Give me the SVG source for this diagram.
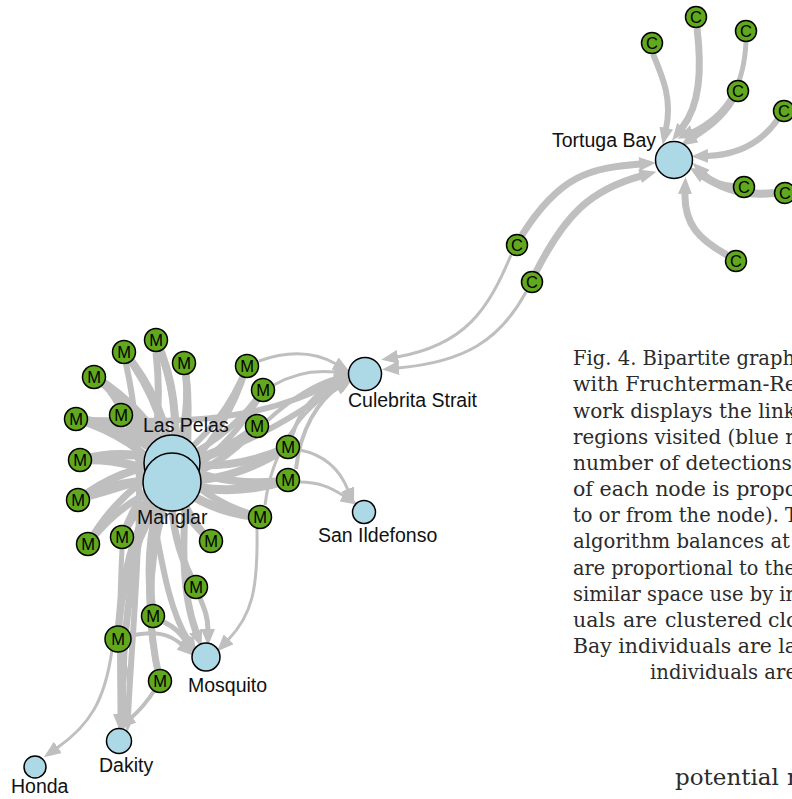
<svg xmlns="http://www.w3.org/2000/svg" width="792" height="799" viewBox="0 0 792 799">
<style>
.e{fill:none;stroke:#bfbfbf;stroke-linecap:butt}
.a{marker-end:url(#arr)}
.ind{fill:#62a81e;stroke:#000;stroke-width:1.5}
.reg{fill:#add8e6;stroke:#000;stroke-width:1.5}
.il{font-family:"Liberation Sans",Arial,sans-serif;font-size:16.5px;fill:#000;text-anchor:middle}
.rl{font-family:"Liberation Sans",Arial,sans-serif;font-size:19.5px;fill:#111}
.cap{font-family:"DejaVu Serif",serif;font-size:20.5px;fill:#2b2b2b}
</style>
<defs>
<marker id="arr" markerUnits="userSpaceOnUse" markerWidth="17" markerHeight="14" refX="1" refY="7" orient="auto">
<path d="M0,0 L17,7 L0,14 z" fill="#bfbfbf"/>
</marker>
</defs>
<rect width="792" height="799" fill="#fff"/>
<g id="connectors">
<path class="e" stroke-width="8" d="M156,340 Q182.5,399 172,463"/>
<path class="e" stroke-width="7" d="M156,340 Q185,409 172,482"/>
<path class="e" stroke-width="8" d="M124,352 Q164.7,400.3 172,463"/>
<path class="e" stroke-width="7" d="M124,352 Q167.5,409.8 172,482"/>
<path class="e" stroke-width="7" d="M184,363 Q193,414.8 172,463"/>
<path class="e" stroke-width="7" d="M184,363 Q195.9,424.3 172,482"/>
<path class="e" stroke-width="9" d="M94,377 Q145.9,408.3 172,463"/>
<path class="e" stroke-width="7" d="M94,377 Q148.8,417.8 172,482"/>
<path class="e" stroke-width="6" d="M247,366 Q224,425.8 172,463"/>
<path class="e" stroke-width="6" d="M247,366 Q226.9,435.3 172,482"/>
<path class="e" stroke-width="6" d="M263,390 Q228.5,440.2 172,463"/>
<path class="e" stroke-width="6" d="M263,390 Q231.3,449.7 172,482"/>
<path class="e" stroke-width="7" d="M121,415 Q153.7,431.4 172,463"/>
<path class="e" stroke-width="7" d="M121,415 Q156.5,440.9 172,482"/>
<path class="e" stroke-width="10" d="M76,419 Q130.6,426.6 172,463"/>
<path class="e" stroke-width="8" d="M76,419 Q133.5,436.1 172,482"/>
<path class="e" stroke-width="8" d="M257,426 Q220,457.3 172,463"/>
<path class="e" stroke-width="7" d="M257,426 Q222.9,466.8 172,482"/>
<path class="e" stroke-width="9" d="M80,460 Q126.5,447.7 172,463"/>
<path class="e" stroke-width="9" d="M80,460 Q129.3,457.2 172,482"/>
<path class="e" stroke-width="8" d="M288,447 Q232.4,472.4 172,463"/>
<path class="e" stroke-width="8" d="M288,447 Q235.3,481.9 172,482"/>
<path class="e" stroke-width="8" d="M288,480 Q227.5,488.9 172,463"/>
<path class="e" stroke-width="9" d="M288,480 Q230.3,498.4 172,482"/>
<path class="e" stroke-width="8" d="M78,500 Q119.5,467.4 172,463"/>
<path class="e" stroke-width="9" d="M78,500 Q122.3,476.9 172,482"/>
<path class="e" stroke-width="7" d="M260,517 Q207.9,503.2 172,463"/>
<path class="e" stroke-width="9" d="M260,517 Q210.8,512.7 172,482"/>
<path class="e" stroke-width="7" d="M88,544 Q117.9,490.9 172,463"/>
<path class="e" stroke-width="7" d="M88,544 Q120.7,500.4 172,482"/>
<path class="e" stroke-width="6" d="M122,537 Q135.9,492.5 172,463"/>
<path class="e" stroke-width="7" d="M122,537 Q138.8,502 172,482"/>
<path class="e" stroke-width="6" d="M211,541 Q179.8,507.9 172,463"/>
<path class="e" stroke-width="7" d="M211,541 Q182.7,517.4 172,482"/>
<path class="e" stroke-width="6" d="M196,587 Q165.4,528.6 172,463"/>
<path class="e" stroke-width="7" d="M196,587 Q168.3,538.1 172,482"/>
<path class="e" stroke-width="7" d="M153,616 Q139.6,536.7 172,463"/>
<path class="e" stroke-width="8" d="M153,616 Q142.4,546.2 172,482"/>
<path class="e" stroke-width="6" d="M118,639 Q118.6,542.9 172,463"/>
<path class="e" stroke-width="7" d="M118,639 Q121.5,552.4 172,482"/>
<path class="e" stroke-width="6" d="M160,681 Q133.3,570.2 172,463"/>
<path class="e" stroke-width="7" d="M160,681 Q136.2,579.7 172,482"/>
<path class="e a" stroke-width="6" d="M653,54 C664,80 672,100 666,129"/>
<path class="e a" stroke-width="7" d="M697,28 C702,70 700,105 682,128"/>
<path class="e a" stroke-width="5" d="M746,42 C744,85 728,115 692,132"/>
<path class="e a" stroke-width="6" d="M733,100 C722,118 708,128 694,137"/>
<path class="e a" stroke-width="6" d="M778,119 C760,145 735,155 707,156"/>
<path class="e a" stroke-width="8" d="M774,193 C745,196 725,190 703,176"/>
<path class="e a" stroke-width="6" d="M733,186 C722,185 712,182 704,174"/>
<path class="e a" stroke-width="7" d="M727,255 C700,240 684,225 685,193"/>
<path class="e a" stroke-width="7" d="M522,235 C560,175 590,168 640,164"/>
<path class="e a" stroke-width="7" d="M536,272 C565,215 590,190 641,176"/>
<path class="e a" stroke-width="3" d="M511,255 C488,310 465,345 397,357"/>
<path class="e a" stroke-width="3" d="M526,292 C500,340 465,362 398,368"/>
<path class="e a" stroke-width="3" d="M259,361 C290,350 315,352 336,364"/>
<path class="e a" stroke-width="3" d="M274,385 C296,372 316,370 335,372"/>
<path class="e a" stroke-width="4" d="M268,420 C290,400 312,385 336,378"/>
<path class="e a" stroke-width="4" d="M292,436 C300,410 315,392 337,382"/>
<path class="e a" stroke-width="4" d="M296,469 C300,430 318,400 340,386"/>
<path class="e a" stroke-width="3" d="M265,505 C272,450 300,410 338,388"/>
<path class="e a" stroke-width="6" d="M88,420 C150,420 250,430 337,380"/>
<path class="e a" stroke-width="6" d="M90,497 C180,470 270,440 338,384"/>
<path class="e a" stroke-width="3" d="M300,450 C325,455 340,470 348,490"/>
<path class="e a" stroke-width="3" d="M300,482 C318,482 330,487 344,496"/>
<path class="e a" stroke-width="3" d="M257,529 C258,590 252,615 228,640"/>
<path class="e a" stroke-width="5" d="M200,598 C205,610 208,618 208,630"/>
<path class="e a" stroke-width="5" d="M164,622 C172,626 180,632 185,640"/>
<path class="e a" stroke-width="4" d="M130,636 C155,630 170,634 182,645"/>
<path class="e a" stroke-width="7" d="M186,374 C195,470 170,560 196,632"/>
<path class="e a" stroke-width="6" d="M104,384 C160,450 150,580 188,640"/>
<path class="e a" stroke-width="7" d="M156,352 C170,470 118,560 123,715"/>
<path class="e a" stroke-width="6" d="M126,364 C150,470 135,580 128,716"/>
<path class="e a" stroke-width="5" d="M122,549 C118,620 120,680 120,715"/>
<path class="e a" stroke-width="3" d="M121,651 C132,680 130,700 124,716"/>
<path class="e a" stroke-width="4" d="M154,691 C147,702 140,710 131,718"/>
<path class="e a" stroke-width="3" d="M112,650 C105,700 90,725 57,748"/>
</g>
<g id="tortuga-bay"><circle class="reg" cx="674" cy="160" r="18.5"/><text class="rl" x="552" y="147">Tortuga Bay</text></g>
<g id="culebrita-strait"><circle class="reg" cx="365" cy="374" r="16.5"/><text class="rl" x="348" y="407">Culebrita Strait</text></g>
<g id="san-ildefonso"><circle class="reg" cx="364" cy="512" r="11.5"/><text class="rl" x="318" y="542">San Ildefonso</text></g>
<g id="las-pelas"><circle class="reg" cx="172" cy="463" r="28"/><text class="rl" x="143" y="432">Las Pelas</text></g>
<g id="manglar"><circle class="reg" cx="172" cy="482" r="29"/><text class="rl" x="137" y="524">Manglar</text></g>
<g id="mosquito"><circle class="reg" cx="206" cy="657" r="14"/><text class="rl" x="188" y="692">Mosquito</text></g>
<g id="dakity"><circle class="reg" cx="119" cy="741" r="12.5"/><text class="rl" x="99" y="772">Dakity</text></g>
<g id="honda"><circle class="reg" cx="35" cy="767" r="11"/><text class="rl" x="11" y="793">Honda</text></g>
<g id="c1"><circle class="ind" cx="652" cy="43" r="10.5"/><text class="il" x="652" y="49">C</text></g>
<g id="c2"><circle class="ind" cx="696" cy="17" r="10.5"/><text class="il" x="696" y="23">C</text></g>
<g id="c3"><circle class="ind" cx="746" cy="31" r="10.5"/><text class="il" x="746" y="37">C</text></g>
<g id="c4"><circle class="ind" cx="738" cy="91" r="10.5"/><text class="il" x="738" y="97">C</text></g>
<g id="c5"><circle class="ind" cx="784" cy="111" r="10.5"/><text class="il" x="784" y="117">C</text></g>
<g id="c6"><circle class="ind" cx="744" cy="187" r="10.5"/><text class="il" x="744" y="193">C</text></g>
<g id="c7"><circle class="ind" cx="785" cy="193" r="10.5"/><text class="il" x="785" y="199">C</text></g>
<g id="c8"><circle class="ind" cx="736" cy="261" r="10.5"/><text class="il" x="736" y="267">C</text></g>
<g id="c9"><circle class="ind" cx="517" cy="245" r="10.5"/><text class="il" x="517" y="251">C</text></g>
<g id="c10"><circle class="ind" cx="532" cy="282" r="10.5"/><text class="il" x="532" y="288">C</text></g>
<g id="m1"><circle class="ind" cx="156" cy="340" r="11.5"/><text class="il" x="156" y="346">M</text></g>
<g id="m2"><circle class="ind" cx="124" cy="352" r="11.5"/><text class="il" x="124" y="358">M</text></g>
<g id="m3"><circle class="ind" cx="184" cy="363" r="11.5"/><text class="il" x="184" y="369">M</text></g>
<g id="m4"><circle class="ind" cx="94" cy="377" r="11.5"/><text class="il" x="94" y="383">M</text></g>
<g id="m5"><circle class="ind" cx="247" cy="366" r="11.5"/><text class="il" x="247" y="372">M</text></g>
<g id="m6"><circle class="ind" cx="263" cy="390" r="11.5"/><text class="il" x="263" y="396">M</text></g>
<g id="m7"><circle class="ind" cx="121" cy="415" r="11.5"/><text class="il" x="121" y="421">M</text></g>
<g id="m8"><circle class="ind" cx="76" cy="419" r="11.5"/><text class="il" x="76" y="425">M</text></g>
<g id="m9"><circle class="ind" cx="257" cy="426" r="11.5"/><text class="il" x="257" y="432">M</text></g>
<g id="m10"><circle class="ind" cx="80" cy="460" r="11.5"/><text class="il" x="80" y="466">M</text></g>
<g id="m11"><circle class="ind" cx="288" cy="447" r="11.5"/><text class="il" x="288" y="453">M</text></g>
<g id="m12"><circle class="ind" cx="288" cy="480" r="11.5"/><text class="il" x="288" y="486">M</text></g>
<g id="m13"><circle class="ind" cx="78" cy="500" r="11.5"/><text class="il" x="78" y="506">M</text></g>
<g id="m14"><circle class="ind" cx="260" cy="517" r="11.5"/><text class="il" x="260" y="523">M</text></g>
<g id="m15"><circle class="ind" cx="88" cy="544" r="11.5"/><text class="il" x="88" y="550">M</text></g>
<g id="m16"><circle class="ind" cx="122" cy="537" r="11.5"/><text class="il" x="122" y="543">M</text></g>
<g id="m17"><circle class="ind" cx="211" cy="541" r="11.5"/><text class="il" x="211" y="547">M</text></g>
<g id="m18"><circle class="ind" cx="196" cy="587" r="11.5"/><text class="il" x="196" y="593">M</text></g>
<g id="m19"><circle class="ind" cx="153" cy="616" r="11.5"/><text class="il" x="153" y="622">M</text></g>
<g id="m20"><circle class="ind" cx="118" cy="639" r="13"/><text class="il" x="118" y="645">M</text></g>
<g id="m21"><circle class="ind" cx="160" cy="681" r="11.5"/><text class="il" x="160" y="687">M</text></g>
<g id="caption">
<text class="cap" x="573" y="365" textLength="222" lengthAdjust="spacingAndGlyphs">Fig. 4. Bipartite graph</text>
<text class="cap" x="573" y="391" textLength="224" lengthAdjust="spacingAndGlyphs">with Fruchterman-Re</text>
<text class="cap" x="573" y="418" textLength="223" lengthAdjust="spacingAndGlyphs">work displays the link</text>
<text class="cap" x="573" y="444" textLength="225" lengthAdjust="spacingAndGlyphs">regions visited (blue n</text>
<text class="cap" x="573" y="470" textLength="219" lengthAdjust="spacingAndGlyphs">number of detections</text>
<text class="cap" x="573" y="496" textLength="224" lengthAdjust="spacingAndGlyphs">of each node is propo</text>
<text class="cap" x="573" y="522" textLength="225" lengthAdjust="spacingAndGlyphs">to or from the node). T</text>
<text class="cap" x="573" y="548" textLength="217" lengthAdjust="spacingAndGlyphs">algorithm balances at</text>
<text class="cap" x="573" y="575" textLength="223" lengthAdjust="spacingAndGlyphs">are proportional to the</text>
<text class="cap" x="573" y="601" textLength="225" lengthAdjust="spacingAndGlyphs">similar space use by in</text>
<text class="cap" x="573" y="627">uals<tspan x="623">are</tspan><tspan x="665">clustered</tspan><tspan x="768">clo</tspan></text>
<text class="cap" x="573" y="653" textLength="224" lengthAdjust="spacingAndGlyphs">Bay individuals are la</text>
<text class="cap" x="650" y="679" textLength="147" lengthAdjust="spacingAndGlyphs">individuals are</text>
<text class="cap" x="675" y="785" style="font-size:23px">potential<tspan x="787">r</tspan></text>
</g>
</svg>
